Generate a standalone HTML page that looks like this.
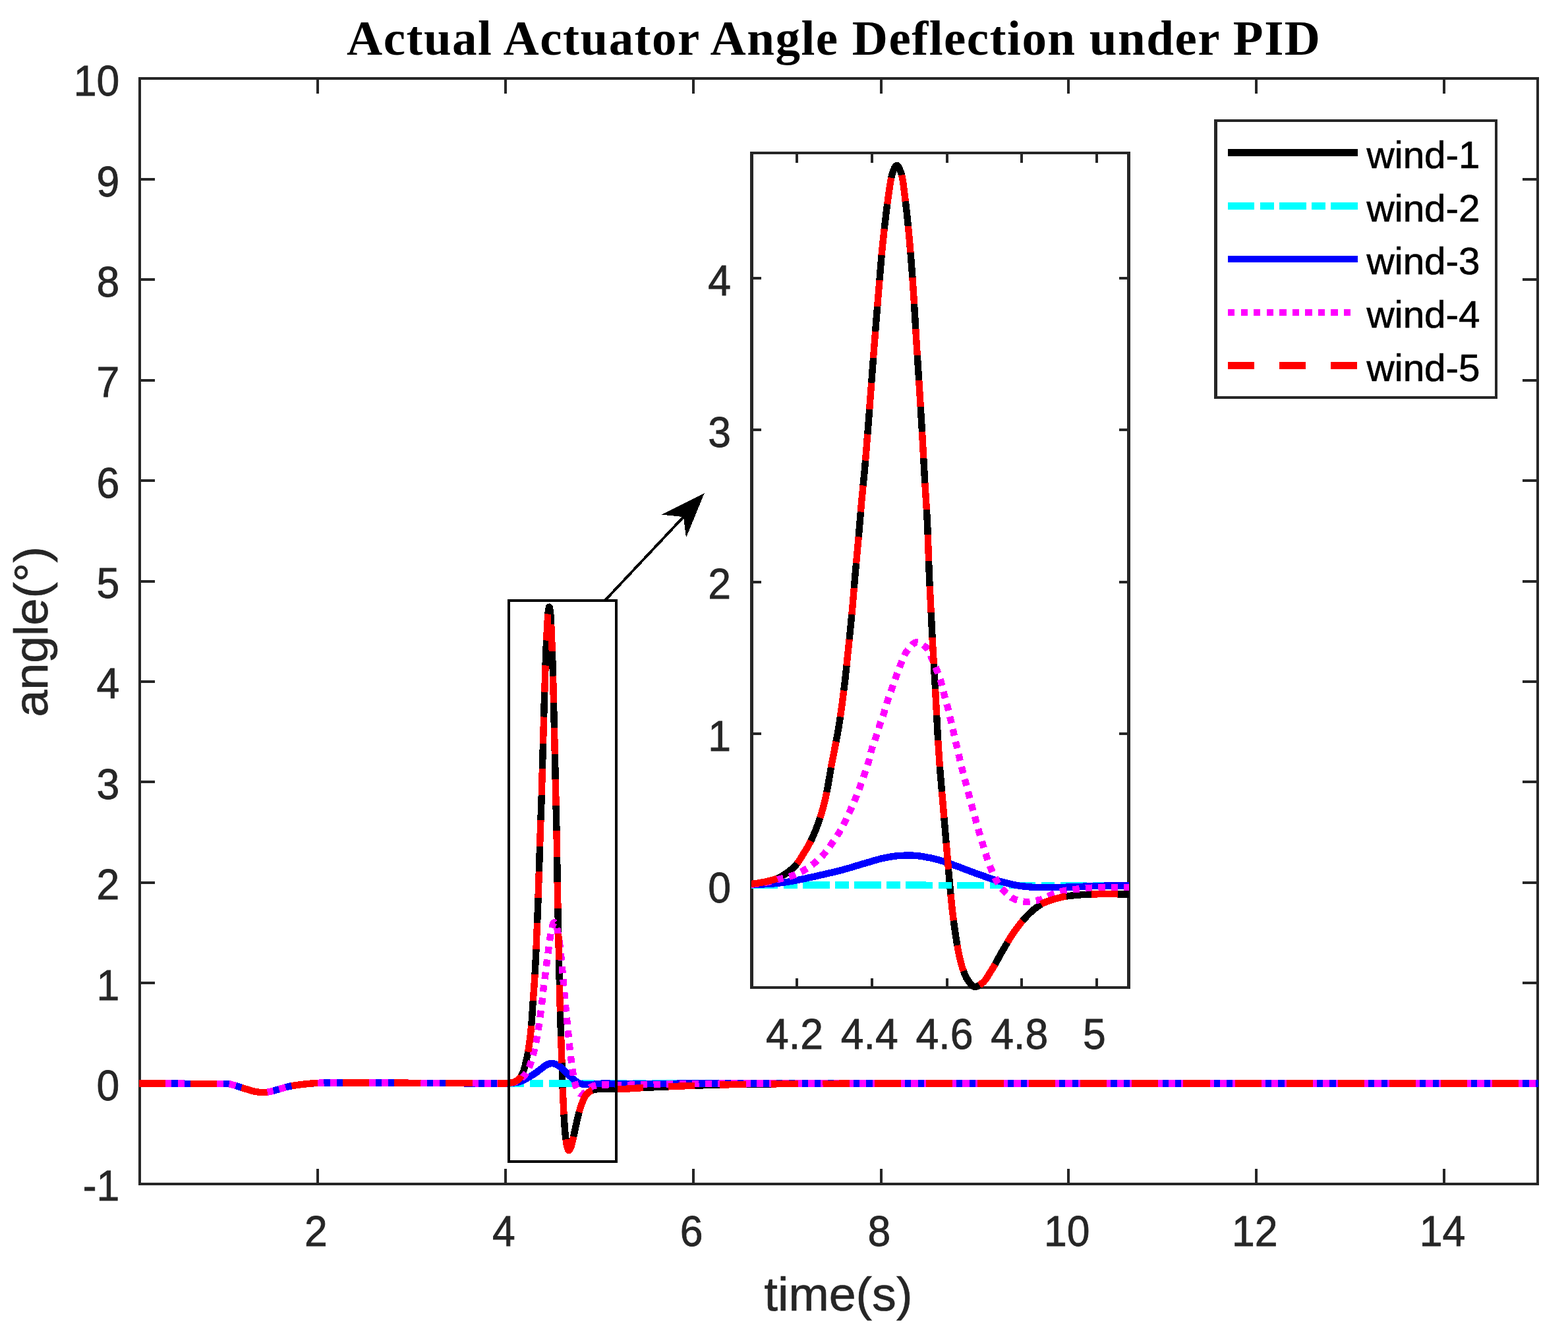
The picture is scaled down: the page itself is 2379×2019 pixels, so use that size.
<!DOCTYPE html>
<html lang="en"><head><meta charset="utf-8"><title>Actual Actuator Angle Deflection under PID</title>
<style>html,body{margin:0;padding:0;background:#fff}svg{display:block}text{font-family:"Liberation Sans",sans-serif;fill:#262626}.tk{font-size:62.5px;stroke:#262626;stroke-width:.8px}.lb{font-size:73.6px;stroke:#262626;stroke-width:.7px}.lg{font-size:58.4px;fill:#000;stroke:#000;stroke-width:.7px}.ti{font-family:"Liberation Serif",serif;font-weight:bold;font-size:75px;fill:#000;stroke:none}.c{fill:none;stroke-width:10.42;stroke-linejoin:round}.ax{fill:none;stroke:#262626;stroke-width:4.00}</style></head><body>
<svg width="2379" height="2019" viewBox="0 0 2379 2019" role="img" aria-label="Actual Actuator Angle Deflection under PID">
<rect x="0" y="0" width="2379" height="2019" fill="#fff"/>
<path fill="#262626" d="M210,117H2335V1798H210ZM214,121V1794H2331V121Z" fill-rule="evenodd"/>
<path class="ax" shape-rendering="crispEdges" d="M482.00,1796.0v-23M482.00,119.0v23M766.84,1796.0v-23M766.84,119.0v23M1051.67,1796.0v-23M1051.67,119.0v23M1336.51,1796.0v-23M1336.51,119.0v23M1621.34,1796.0v-23M1621.34,119.0v23M1906.17,1796.0v-23M1906.17,119.0v23M2191.01,1796.0v-23M2191.01,119.0v23M212.0,1643.40h23M2333.0,1643.40h-23M212.0,1491.03h23M2333.0,1491.03h-23M212.0,1338.65h23M2333.0,1338.65h-23M212.0,1186.28h23M2333.0,1186.28h-23M212.0,1033.90h23M2333.0,1033.90h-23M212.0,881.53h23M2333.0,881.53h-23M212.0,729.15h23M2333.0,729.15h-23M212.0,576.78h23M2333.0,576.78h-23M212.0,424.40h23M2333.0,424.40h-23M212.0,272.03h23M2333.0,272.03h-23"/>
<text class="tk" text-anchor="middle" transform="translate(479.5,1890.0) scale(1,1.025)">2</text>
<text class="tk" text-anchor="middle" transform="translate(764.3,1890.0) scale(1,1.025)">4</text>
<text class="tk" text-anchor="middle" transform="translate(1049.2,1890.0) scale(1,1.025)">6</text>
<text class="tk" text-anchor="middle" transform="translate(1334.0,1890.0) scale(1,1.025)">8</text>
<text class="tk" text-anchor="middle" transform="translate(1618.8,1890.0) scale(1,1.025)">10</text>
<text class="tk" text-anchor="middle" transform="translate(1903.7,1890.0) scale(1,1.025)">12</text>
<text class="tk" text-anchor="middle" transform="translate(2188.5,1890.0) scale(1,1.025)">14</text>
<text class="tk" text-anchor="end" transform="translate(181.3,1821.3) scale(1,1.025)">-1</text>
<text class="tk" text-anchor="end" transform="translate(181.3,1668.9) scale(1,1.025)">0</text>
<text class="tk" text-anchor="end" transform="translate(181.3,1516.5) scale(1,1.025)">1</text>
<text class="tk" text-anchor="end" transform="translate(181.3,1364.2) scale(1,1.025)">2</text>
<text class="tk" text-anchor="end" transform="translate(181.3,1211.8) scale(1,1.025)">3</text>
<text class="tk" text-anchor="end" transform="translate(181.3,1059.4) scale(1,1.025)">4</text>
<text class="tk" text-anchor="end" transform="translate(181.3,907.0) scale(1,1.025)">5</text>
<text class="tk" text-anchor="end" transform="translate(181.3,754.7) scale(1,1.025)">6</text>
<text class="tk" text-anchor="end" transform="translate(181.3,602.3) scale(1,1.025)">7</text>
<text class="tk" text-anchor="end" transform="translate(181.3,449.9) scale(1,1.025)">8</text>
<text class="tk" text-anchor="end" transform="translate(181.3,297.5) scale(1,1.025)">9</text>
<text class="tk" text-anchor="end" transform="translate(181.3,145.2) scale(1,1.025)">10</text>
<text class="lb" text-anchor="middle" transform="translate(1272,1988.4) scale(1,0.98)">time(s)</text>
<text class="lb" text-anchor="middle" transform="translate(72.2,958.3) rotate(-90) scale(1,0.98)">angle(°)</text>
<text class="ti" x="526" y="82.7" textLength="1477" lengthAdjust="spacing">Actual Actuator Angle Deflection under PID</text>
<clipPath id="cm"><rect x="211" y="117.0" width="2123" height="1685.0"/></clipPath>
<g clip-path="url(#cm)" shape-rendering="crispEdges">
<polyline class="c" stroke="#000000" points="211,1643.4 269,1643.6 295.2,1643.9 345.5,1643.9 349,1644.5 353.3,1645.6 363.2,1648.7 373.8,1652.1 380.2,1654.1 383.7,1655.1 388.7,1656.1 392.2,1656.6 397.2,1657.2 400,1657.3 402.1,1657.1 405.7,1656.7 409.9,1655.9 416.3,1654.3 426.2,1651.3 435.4,1648.8 438.9,1647.9 442.5,1647.2 450.3,1646 458.8,1644.9 473.6,1643.4 482.1,1642.8 490.6,1642.6 509.7,1642.4 571.3,1642.3 674.7,1643.2 767.5,1643.4 770,1643.2 772.9,1642.8 777,1642 779.2,1641.5 782.4,1640.1 784.6,1638.9 786.6,1637.5 788.1,1636 789.1,1634.7 790.1,1633.3 792.4,1628.9 794,1625.5 795.3,1621.7 796.6,1616.7 799.7,1603.2 801,1596.9 802.2,1589.7 804.4,1573.3 805.3,1565.4 806,1557.7 806.9,1546.8 808.5,1522.3 811.1,1486.6 812.2,1466.5 813.4,1442 816.3,1369.8 819.9,1258.4 821.6,1212 825.7,1067.9 827.3,1018.1 828.1,994.6 829.4,964.6 831.1,934.5 831.5,929.8 832.2,924.5 832.8,921.7 833,921 833.3,920.8 833.4,920.9 833.6,921.2 834,922.4 834.8,927.1 835.2,930.8 835.7,937.6 836.8,960.4 837.4,976.1 839,1022.7 839.7,1053.1 842,1150 844.7,1271.1 845.8,1344.1 847,1406.2 847.9,1445.5 849,1500.2 849.9,1533.9 853.8,1653.4 854.6,1671.9 855.7,1693.6 856.6,1707.6 857.6,1720.7 858.7,1729.6 859.7,1736 860.8,1740.2 861.5,1742.7 862.2,1744.3 862.5,1744.8 862.8,1745 863.1,1745.1 863.6,1744.8 864.5,1743.7 866,1740.7 866.9,1738.3 867.8,1734.6 870.1,1724.7 873.2,1710 875.8,1698.4 878,1689.2 880.2,1681.7 882.3,1675.3 884.3,1669.9 886.3,1665.4 888.1,1662.2 889.1,1660.9 890.1,1659.7 892.2,1657.7 894.1,1656.3 895.7,1655.2 898,1654 901.7,1652.9 904.6,1652.4 908.5,1652 913,1651.9 921.3,1652.2 938,1652.2 942.5,1652.1 948.9,1651.8 965.6,1650.6 996.1,1649.1 1048.4,1646.9 1085.3,1645.7 1115.7,1645.1 1147.6,1644.6 1187.2,1644.2 1236,1643.9 1334.4,1643.4 2334,1643.4"/>
<polyline class="c" stroke="#00ffff" stroke-dasharray="40.4 8.8 20.3 8.625" points="211,1643.4 269,1643.6 295.2,1643.9 345.5,1643.9 349,1644.5 353.3,1645.6 363.2,1648.7 373.8,1652.1 380.2,1654.1 383.7,1655.1 388.7,1656.1 392.2,1656.6 397.2,1657.2 400,1657.3 402.1,1657.1 405,1656.8 408.5,1656.2 415.6,1654.5 426.9,1651.1 438.2,1648.1 442.5,1647.2 451,1645.9 462.3,1644.5 473.6,1643.4 480.7,1642.9 487.1,1642.6 507.6,1642.4 576.3,1642.4 671.8,1643.2 745.5,1643.4 2334,1643.4"/>
<polyline class="c" stroke="#0000ff" points="211,1643.4 269,1643.6 295.2,1643.9 345.5,1643.9 349,1644.5 353.3,1645.6 363.2,1648.7 373.8,1652.1 380.2,1654.1 383.7,1655.1 388.7,1656.1 392.2,1656.6 397.2,1657.2 400,1657.3 402.1,1657.1 405.7,1656.7 409.2,1656 415.6,1654.5 426.2,1651.3 436.1,1648.6 440.4,1647.6 443.9,1647 452.4,1645.7 460.9,1644.7 475.8,1643.3 485,1642.7 497.7,1642.5 511.2,1642.3 571.3,1642.3 676.1,1643.2 737.7,1643.4 766.9,1643.4 769.4,1643.3 779.8,1642.4 784.5,1641.8 786.5,1641.4 788.5,1640.9 791,1640.1 792.7,1639.4 795.6,1637.9 801.8,1634.5 806,1631.9 811.3,1628.6 815.2,1625.8 820.4,1621.7 825.1,1618 827.9,1616.1 831,1614.5 832.9,1613.7 835.2,1613.3 837.7,1613.1 839,1613.2 840.8,1613.5 842.7,1614.1 846.2,1615.8 849.6,1618 851.1,1619.2 852.7,1620.7 861.5,1629.4 868.5,1635.9 871.9,1638.7 876,1641.6 878.2,1642.9 880.2,1643.7 884.4,1644.9 885.9,1645.2 887.3,1645.3 892.4,1645.2 899,1645 906.6,1644 908.9,1643.8 915.8,1643.6 921.3,1643.5 924.9,1643.6 933.7,1644.4 937.8,1644.6 949.9,1644.5 978.4,1644 1010.9,1643.8 1048.4,1643.6 1112.2,1643.4 2334,1643.4"/>
<polyline class="c" stroke="#ff00ff" stroke-dasharray="10.4 9.13" points="211,1643.4 269,1643.6 295.2,1643.9 345.5,1643.9 349,1644.5 353.3,1645.6 363.2,1648.7 373.8,1652.1 380.2,1654.1 383.7,1655.1 388.7,1656.1 392.2,1656.6 397.2,1657.2 400,1657.3 402.1,1657.1 405.7,1656.7 409.2,1656 415.6,1654.5 426.2,1651.3 435.4,1648.8 439.7,1647.8 443.2,1647.1 451.7,1645.8 460.2,1644.7 475,1643.3 484.3,1642.7 496.3,1642.5 511.2,1642.3 572,1642.3 674.7,1643.2 767,1643.4 770.8,1643.2 775.1,1642.7 778.7,1642.2 781.1,1641.4 783.2,1640.5 784.5,1639.8 788.5,1637 791.8,1634.9 793.2,1633.9 794.4,1632.8 795.7,1631.3 797.3,1629.2 798.8,1626.9 800.5,1623.8 802.4,1620 803.9,1616.6 805.2,1612.9 807,1607.3 810.7,1593 812.4,1585.5 814.4,1575 817.3,1557.8 819.3,1544.8 822.3,1521.1 823.9,1505 828.3,1471.2 829.9,1457 831.6,1444.9 833.2,1432 834.7,1421.6 836.2,1412.6 837,1408.8 838.4,1404 839.3,1401.4 840.1,1399.8 840.5,1399.4 840.9,1399.2 841.4,1399.3 841.8,1399.7 842.8,1401 844.2,1404.1 844.7,1405.3 845,1406.4 845.6,1409.7 847.9,1423.5 849.8,1436.8 850.5,1442.5 851.6,1454.6 852.9,1467.5 857.3,1518.2 861.8,1564 864.6,1590.5 867.2,1612.5 868.1,1620 869.2,1627.1 870.5,1634.7 871.5,1639.9 873,1645.6 874.5,1649.9 876.3,1654.3 877,1655.7 877.7,1656.7 878.7,1657.6 880.1,1658.8 881.1,1659.3 882,1659.6 883.2,1659.6 884.5,1659.3 886,1658.6 887.9,1657.5 889.1,1656.4 891.5,1653.3 892.4,1652.1 895.3,1649.7 896.4,1648.9 897.4,1648.4 899.6,1647.5 905.7,1645.9 909,1645.5 911.9,1645.3 923.3,1645.3 934.5,1646.1 939.6,1646.1 975.5,1645.2 1045.6,1644.1 1104.4,1643.6 1177.3,1643.4 2334,1643.4"/>
<polyline class="c" stroke="#ff0000" stroke-dasharray="40.2 37.925" points="211,1643.4 269,1643.6 295.2,1643.9 345.5,1643.9 349,1644.5 353.3,1645.6 363.2,1648.7 373.8,1652.1 380.2,1654.1 383.7,1655.1 388.7,1656.1 392.2,1656.6 397.2,1657.2 400,1657.3 402.1,1657.1 405.7,1656.7 409.9,1655.9 416.3,1654.3 426.2,1651.3 435.4,1648.8 438.9,1647.9 442.5,1647.2 450.3,1646 458.8,1644.9 473.6,1643.4 482.1,1642.8 490.6,1642.6 509.7,1642.4 571.3,1642.3 674.7,1643.2 767.5,1643.4 770,1643.2 772.9,1642.8 777,1642 779.2,1641.5 782.4,1640.1 784.6,1638.9 786.6,1637.5 788.1,1636 789.1,1634.7 790.1,1633.3 792.4,1628.9 794,1625.5 795.3,1621.7 796.6,1616.7 799.7,1603.2 801,1596.9 802.2,1589.7 804.4,1573.3 805.3,1565.4 806,1557.7 806.9,1546.8 808.5,1522.3 811.1,1486.6 812.2,1466.5 813.4,1442 816.3,1369.8 819.9,1258.4 821.6,1212 825.7,1067.9 827.3,1018.1 828.1,994.6 829.4,964.6 831.1,934.5 831.5,929.8 832.2,924.5 832.8,921.7 833,921 833.3,920.8 833.4,920.9 833.6,921.2 834,922.4 834.8,927.1 835.2,930.8 835.7,937.6 836.8,960.4 837.4,976.1 839,1022.7 839.7,1053.1 842,1150 844.7,1271.1 845.8,1344.1 847,1406.2 847.9,1445.5 849,1500.2 849.9,1533.9 853.8,1653.4 854.6,1671.9 855.7,1693.6 856.6,1707.6 857.6,1720.7 858.7,1729.6 859.7,1736 860.8,1740.2 861.5,1742.7 862.2,1744.3 862.5,1744.8 862.8,1745 863.1,1745.1 863.6,1744.8 864.5,1743.7 866,1740.7 866.9,1738.3 867.8,1734.6 870.1,1724.7 873.2,1710 875.8,1698.4 878,1689.2 880.2,1681.7 882.3,1675.3 884.3,1669.9 886.3,1665.4 888.1,1662.2 889.1,1660.9 890.1,1659.7 892.2,1657.7 894.1,1656.3 895.7,1655.2 898,1654 901.7,1652.9 904.6,1652.4 908.5,1652 913,1651.9 921.3,1652.2 938,1652.2 942.5,1652.1 948.9,1651.8 965.6,1650.6 996.1,1649.1 1048.4,1646.9 1085.3,1645.7 1115.7,1645.1 1147.6,1644.6 1187.2,1644.2 1236,1643.9 1334.4,1643.4 2334,1643.4"/>
</g>
<g shape-rendering="crispEdges">
<rect x="772" y="911" width="163" height="851" fill="none" stroke="#000" stroke-width="3.5"/>
<line x1="916.6" y1="912.2" x2="1038" y2="783" stroke="#000" stroke-width="4"/>
<polygon points="1068.7,748.1 1003.7,780.6 1037,784.1 1041,815.6" fill="#000"/>
</g>
<rect x="1138" y="230" width="577" height="1270" fill="#fff"/>
<path fill="#262626" d="M1138,230H1715V1500H1138ZM1143,234V1496H1710V234Z" fill-rule="evenodd"/>
<path class="ax" shape-rendering="crispEdges" d="M1209.00,1498.0v-14.5M1209.00,232.0v14.5M1322.75,1498.0v-14.5M1322.75,232.0v14.5M1436.50,1498.0v-14.5M1436.50,232.0v14.5M1550.25,1498.0v-14.5M1550.25,232.0v14.5M1664.00,1498.0v-14.5M1664.00,232.0v14.5M1140.5,1343.30h14.5M1712.5,1343.30h-14.5M1140.5,1112.97h14.5M1712.5,1112.97h-14.5M1140.5,882.64h14.5M1712.5,882.64h-14.5M1140.5,652.31h14.5M1712.5,652.31h-14.5M1140.5,421.98h14.5M1712.5,421.98h-14.5"/>
<text class="tk" text-anchor="middle" transform="translate(1205.5,1591.0) scale(1,1.025)">4.2</text>
<text class="tk" text-anchor="middle" transform="translate(1319.2,1591.0) scale(1,1.025)">4.4</text>
<text class="tk" text-anchor="middle" transform="translate(1433.0,1591.0) scale(1,1.025)">4.6</text>
<text class="tk" text-anchor="middle" transform="translate(1546.7,1591.0) scale(1,1.025)">4.8</text>
<text class="tk" text-anchor="middle" transform="translate(1660.5,1591.0) scale(1,1.025)">5</text>
<text class="tk" text-anchor="end" transform="translate(1109.0,1369.1) scale(1,1.025)">0</text>
<text class="tk" text-anchor="end" transform="translate(1109.0,1138.8) scale(1,1.025)">1</text>
<text class="tk" text-anchor="end" transform="translate(1109.0,908.4) scale(1,1.025)">2</text>
<text class="tk" text-anchor="end" transform="translate(1109.0,678.1) scale(1,1.025)">3</text>
<text class="tk" text-anchor="end" transform="translate(1109.0,447.8) scale(1,1.025)">4</text>
<clipPath id="ci"><rect x="1140" y="230.0" width="573" height="1274.0"/></clipPath>
<g clip-path="url(#ci)" shape-rendering="crispEdges">
<polyline class="c" stroke="#000000" points="1140,1340.9 1144.2,1340.4 1149.2,1339.7 1157.8,1338.2 1163.9,1337 1168.8,1335.8 1173.2,1334.6 1177,1333.4 1180.3,1332.1 1183.8,1330.4 1187.7,1328.1 1192,1325.4 1196.9,1321.8 1200,1319.4 1203,1316.8 1205.8,1314.1 1208.4,1311.2 1210.8,1308.1 1213.5,1304.1 1225.3,1284.8 1227.8,1280.2 1230.1,1275.9 1232.3,1271.4 1234.4,1266.6 1237.3,1259.7 1240.2,1252.1 1243.3,1243.1 1245.9,1235.3 1248.2,1227.7 1250.3,1219.8 1251.9,1213.4 1253.5,1206 1256.1,1192.5 1261.7,1159.6 1269.1,1122 1272.3,1104.3 1274.7,1088.6 1277.3,1070.5 1280.1,1048.4 1282.2,1031.4 1288.8,968.1 1292.3,932.9 1293.8,916.1 1297.4,872.8 1302.8,813.3 1307.2,760.9 1311.8,713.1 1313.2,697.3 1317.2,647.2 1325.8,532.7 1329.7,482.8 1336.2,403.8 1337.7,385.8 1339,372.5 1342,344.6 1344.8,320.8 1346.2,309.8 1349.2,288 1350.5,279.4 1351.5,273.3 1352.5,268.3 1353.4,264.7 1354.4,261.7 1355.9,257.6 1357.2,254.7 1358.4,252.6 1359,251.9 1359.5,251.4 1360.1,251.1 1360.5,251 1361.1,251.1 1361.6,251.4 1362.2,252 1362.8,252.7 1364.1,254.9 1365.5,258.1 1367.2,262.4 1368,264.8 1368.8,268.7 1369.7,273.5 1370.6,280 1371.8,289.5 1374.4,310.6 1376,324.3 1378.8,352.7 1381.7,385.2 1383.9,413.7 1386.3,448.8 1390.3,516.2 1395,588.9 1399.1,656.5 1403.1,728.7 1406.2,778.5 1407.5,804.7 1409.4,859.6 1410.1,877.6 1414.9,974.2 1416.3,998.3 1419.1,1045.3 1421.6,1093.9 1422.4,1109.1 1424,1135.4 1425.6,1159.6 1427.4,1181.5 1438.5,1312.6 1442.3,1355.8 1444.5,1377.3 1446.3,1392.8 1448.2,1407.1 1450.1,1420.1 1451.8,1430.9 1453.7,1441.3 1455.9,1452 1457.9,1460.3 1459.8,1467 1461.7,1472.5 1463.3,1476.7 1464.7,1480.1 1466.1,1483.1 1467,1484.5 1469,1487.4 1471.8,1491.5 1473.9,1493.8 1475.7,1495.6 1477.2,1496.5 1478.6,1496.9 1480,1497 1481.7,1496.6 1483.5,1495.8 1485.4,1494.7 1487.5,1493.3 1490.9,1490.7 1492.6,1489.1 1494.4,1487.1 1496.4,1484.5 1498.6,1481 1508.4,1465.1 1520.1,1443.9 1531.7,1424.2 1534.9,1419.1 1537.9,1414.6 1542.1,1408.8 1546.1,1403.5 1550.9,1397.4 1556.1,1391.6 1561.1,1386.4 1565.7,1382.1 1571.9,1377 1576.7,1373.5 1580.7,1371 1585.8,1368.6 1590.3,1366.8 1595.1,1365.2 1603.2,1362.8 1610.1,1361.1 1614.8,1360.1 1619.2,1359.4 1626.3,1358.5 1633.5,1357.8 1640.5,1357.2 1647.2,1356.8 1659.6,1356.4 1670.2,1356.2 1683.3,1356.1 1713,1356.6"/>
<polyline class="c" stroke="#00ffff" stroke-dasharray="40.4 8.8 20.3 8.625" points="1140,1342.5 1330,1342.5 1500,1343.0 1713,1343.1000000000001"/>
<polyline class="c" stroke="#0000ff" points="1140,1342.1 1159.9,1341.3 1167.1,1340.9 1173.4,1340.4 1181.8,1339.5 1191.4,1338.3 1197.3,1337.4 1203.6,1336.3 1213.9,1334.3 1237.7,1329.2 1258.4,1324.4 1274.7,1320.4 1282.7,1318.3 1288.7,1316.6 1308.9,1310.5 1327.6,1305 1333.7,1303.3 1339,1302 1351.5,1299.6 1355.5,1298.9 1359.2,1298.4 1362.8,1298.1 1368.4,1297.8 1378.3,1297.5 1383.4,1297.6 1390.5,1298 1393.8,1298.3 1397.5,1298.8 1403.5,1299.9 1411.2,1301.3 1417,1302.7 1423.4,1304.3 1430.7,1306.4 1437.2,1308.6 1453.7,1314.6 1474.3,1322.5 1495.4,1330 1506.8,1333.9 1516.7,1336.8 1531,1340.5 1539.5,1342.4 1546.6,1343.7 1557.8,1345 1565.7,1345.7 1572.7,1346.1 1579.3,1346.2 1598.9,1346 1623.6,1345.6 1632.8,1345.3 1653.4,1344.2 1662.6,1343.9 1690.5,1343.5 1713,1343.4"/>
<polyline class="c" stroke="#ff00ff" stroke-dasharray="10.4 9.13" points="1140,1341.6 1144.8,1341.2 1150,1340.6 1156.6,1339.6 1162.7,1338.5 1168.9,1337.1 1182.4,1333.5 1196,1330.2 1201.8,1328.5 1206.5,1326.8 1211.8,1324.4 1218,1321.2 1221.5,1319.1 1224.8,1317.1 1228.4,1314.6 1232,1312 1235.9,1308.9 1239.4,1306 1242.7,1303 1245.8,1300 1250.8,1294.8 1254.2,1290.6 1257.6,1285.9 1267.8,1271.2 1272.1,1264.7 1275.7,1258.7 1279.5,1251.7 1284,1242.6 1288.4,1233 1295.9,1216.2 1299.7,1206.9 1303.6,1196.8 1307.4,1186.5 1317,1158.4 1318.8,1152 1321.8,1139.4 1323.3,1134.3 1324.9,1129.2 1329,1118 1335,1099.4 1340.7,1082.7 1342.3,1077.6 1345.8,1065.5 1347.2,1061 1348.9,1056.2 1353.6,1043.7 1359.1,1027.3 1362,1019.2 1365.5,1010.1 1369.8,999.5 1372.3,993.8 1374.3,990.1 1375.1,988.8 1377.4,985.8 1381,981.2 1384,978 1385.3,976.8 1386.6,975.9 1387.8,975.1 1389,974.6 1390.1,974.3 1391.2,974.2 1393,974.4 1394.7,974.9 1396.6,975.7 1398.5,976.8 1400.9,978.6 1403.7,981 1405.9,983.1 1407.1,984.7 1408.4,986.9 1409.8,989.8 1418.4,1009.2 1421.8,1017.7 1425.4,1027.4 1427.4,1033.3 1429.1,1039.1 1433.6,1057.9 1437.6,1072.1 1439,1077.5 1455.7,1149.7 1458.1,1159.7 1464.1,1183.3 1475.5,1226.5 1483.9,1256.7 1486.8,1266.7 1497.4,1301.1 1500.8,1310.8 1504.1,1319.1 1508.8,1329.5 1510.7,1333.4 1512.5,1336.8 1514.4,1339.8 1517,1343.6 1519.4,1346.9 1521.7,1349.6 1525,1353.1 1530.7,1358.3 1534.4,1361.2 1536,1362.3 1537.6,1363.2 1539.3,1363.9 1542.6,1365.1 1546,1366.1 1548.9,1366.9 1551.4,1367.4 1553.7,1367.7 1555.8,1367.9 1558,1367.9 1562.1,1367.7 1566.7,1367.1 1572.2,1366.1 1578.7,1364.7 1580.9,1363.9 1583.3,1362.9 1593.1,1358.1 1595.4,1357.1 1597.4,1356.3 1605,1353.8 1610.6,1352.2 1615.4,1351 1620.3,1350.2 1626.7,1349.4 1646.7,1347.4 1652.6,1346.9 1658.8,1346.6 1667,1346.3 1673.6,1346.2 1713,1346.2"/>
<polyline class="c" stroke="#ff0000" stroke-dasharray="40.2 37.925" points="1140,1340.9 1144.2,1340.4 1149.2,1339.7 1157.8,1338.2 1163.9,1337 1168.8,1335.8 1173.2,1334.6 1177,1333.4 1180.3,1332.1 1183.8,1330.4 1187.7,1328.1 1192,1325.4 1196.9,1321.8 1200,1319.4 1203,1316.8 1205.8,1314.1 1208.4,1311.2 1210.8,1308.1 1213.5,1304.1 1225.3,1284.8 1227.8,1280.2 1230.1,1275.9 1232.3,1271.4 1234.4,1266.6 1237.3,1259.7 1240.2,1252.1 1243.3,1243.1 1245.9,1235.3 1248.2,1227.7 1250.3,1219.8 1251.9,1213.4 1253.5,1206 1256.1,1192.5 1261.7,1159.6 1269.1,1122 1272.3,1104.3 1274.7,1088.6 1277.3,1070.5 1280.1,1048.4 1282.2,1031.4 1288.8,968.1 1292.3,932.9 1293.8,916.1 1297.4,872.8 1302.8,813.3 1307.2,760.9 1311.8,713.1 1313.2,697.3 1317.2,647.2 1325.8,532.7 1329.7,482.8 1336.2,403.8 1337.7,385.8 1339,372.5 1342,344.6 1344.8,320.8 1346.2,309.8 1349.2,288 1350.5,279.4 1351.5,273.3 1352.5,268.3 1353.4,264.7 1354.4,261.7 1355.9,257.6 1357.2,254.7 1358.4,252.6 1359,251.9 1359.5,251.4 1360.1,251.1 1360.5,251 1361.1,251.1 1361.6,251.4 1362.2,252 1362.8,252.7 1364.1,254.9 1365.5,258.1 1367.2,262.4 1368,264.8 1368.8,268.7 1369.7,273.5 1370.6,280 1371.8,289.5 1374.4,310.6 1376,324.3 1378.8,352.7 1381.7,385.2 1383.9,413.7 1386.3,448.8 1390.3,516.2 1395,588.9 1399.1,656.5 1403.1,728.7 1406.2,778.5 1407.5,804.7 1409.4,859.6 1410.1,877.6 1414.9,974.2 1416.3,998.3 1419.1,1045.3 1421.6,1093.9 1422.4,1109.1 1424,1135.4 1425.6,1159.6 1427.4,1181.5 1438.5,1312.6 1442.3,1355.8 1444.5,1377.3 1446.3,1392.8 1448.2,1407.1 1450.1,1420.1 1451.8,1430.9 1453.7,1441.3 1455.9,1452 1457.9,1460.3 1459.8,1467 1461.7,1472.5 1463.3,1476.7 1464.7,1480.1 1466.1,1483.1 1467,1484.5 1469,1487.4 1471.8,1491.5 1473.9,1493.8 1475.7,1495.6 1477.2,1496.5 1478.6,1496.9 1480,1497 1481.7,1496.6 1483.5,1495.8 1485.4,1494.7 1487.5,1493.3 1490.9,1490.7 1492.6,1489.1 1494.4,1487.1 1496.4,1484.5 1498.6,1481 1508.4,1465.1 1520.1,1443.9 1531.7,1424.2 1534.9,1419.1 1537.9,1414.6 1542.1,1408.8 1546.1,1403.5 1550.9,1397.4 1556.1,1391.6 1561.1,1386.4 1565.7,1382.1 1571.9,1377 1576.7,1373.5 1580.7,1371 1585.8,1368.6 1590.3,1366.8 1595.1,1365.2 1603.2,1362.8 1610.1,1361.1 1614.8,1360.1 1619.2,1359.4 1626.3,1358.5 1633.5,1357.8 1640.5,1357.2 1647.2,1356.8 1659.6,1356.4 1670.2,1356.2 1683.3,1356.1 1713,1356.6"/>
</g>
<rect x="1842" y="181" width="430" height="424" fill="#fff"/>
<path fill="#262626" d="M1842,181H2272V605H1842ZM1847,185V601H2268V185Z" fill-rule="evenodd"/>
<g shape-rendering="crispEdges">
<line x1="1863" y1="231.7" x2="2060" y2="231.7" stroke="#000000" stroke-width="10.42"/>
<line x1="1863" y1="312.4" x2="2060" y2="312.4" stroke="#00ffff" stroke-width="10.42" stroke-dasharray="40.4 8.8 20.3 8.625"/>
<line x1="1863" y1="393.1" x2="2060" y2="393.1" stroke="#0000ff" stroke-width="10.42"/>
<line x1="1863" y1="473.8" x2="2055" y2="473.8" stroke="#ff00ff" stroke-width="10.42" stroke-dasharray="10.4 9.13"/>
<line x1="1863" y1="554.5" x2="2060" y2="554.5" stroke="#ff0000" stroke-width="10.42" stroke-dasharray="40.2 37.925"/>
</g>
<text class="lg" transform="translate(2073.5,254.8) scale(1,0.97)">wind-1</text>
<text class="lg" transform="translate(2073.5,335.5) scale(1,0.97)">wind-2</text>
<text class="lg" transform="translate(2073.5,416.2) scale(1,0.97)">wind-3</text>
<text class="lg" transform="translate(2073.5,496.9) scale(1,0.97)">wind-4</text>
<text class="lg" transform="translate(2073.5,577.6) scale(1,0.97)">wind-5</text>
</svg></body></html>
